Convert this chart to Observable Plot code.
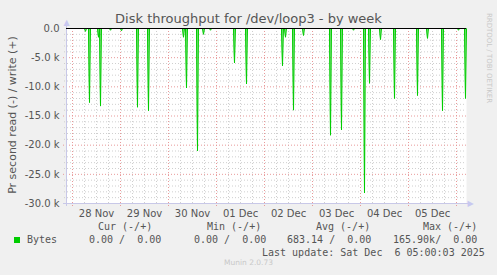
<!DOCTYPE html>
<html><head><meta charset="utf-8">
<script src="https://cdn.jsdelivr.net/npm/d3@7"></script>
<script src="https://cdn.jsdelivr.net/npm/@observablehq/plot@0.6"></script>
<style>
html,body{margin:0;padding:0;background:#f0f0f0;}
#wrap{position:relative;width:497px;height:275px;overflow:hidden;background:#f0f0f0;}
#wrap svg{position:absolute;left:0;top:0;}
.t{position:absolute;white-space:pre;line-height:1;}
.mono{font-family:"DejaVu Sans Mono",monospace;font-size:10px;color:#555;}
</style></head>
<body><div id="wrap"></div>
<script>
// ---- data ----
const titleText = "Disk throughput for /dev/loop3 - by week";
const yLabel = "Pr second read (-) / write (+)";
const timeStart = "2025-11-27T21:00:00Z";
const timeEnd = "2025-12-06T05:00:00Z";
const spikeTimes = [
  "2025-11-28T06:30:00Z","2025-11-28T08:30:00Z","2025-11-28T13:00:00Z","2025-11-28T14:00:00Z",
  "2025-11-28T19:00:00Z","2025-11-29T00:30:00Z","2025-11-29T08:30:00Z","2025-11-29T14:00:00Z",
  "2025-11-30T07:30:00Z","2025-11-30T09:00:00Z","2025-11-30T14:30:00Z","2025-11-30T17:30:00Z",
  "2025-11-30T21:00:00Z","2025-12-01T09:00:00Z","2025-12-01T15:00:00Z","2025-12-02T09:00:00Z",
  "2025-12-02T10:30:00Z","2025-12-02T14:30:00Z","2025-12-02T19:30:00Z","2025-12-03T09:00:00Z",
  "2025-12-03T14:30:00Z","2025-12-03T20:30:00Z","2025-12-04T02:00:00Z","2025-12-04T04:30:00Z",
  "2025-12-04T10:00:00Z","2025-12-04T17:00:00Z","2025-12-05T04:30:00Z","2025-12-05T09:30:00Z",
  "2025-12-05T17:00:00Z","2025-12-06T01:00:00Z","2025-12-06T04:30:00Z"
];
const spikeValues = [
  -500,-12700,-1500,-13300,
  -300,-400,-13500,-14100,
  -1500,-10200,-21000,-1000,
  -300,-5900,-9500,-6400,
  -1500,-14000,-1200,-18300,
  -17400,-300,-28200,-9400,
  -1900,-12000,-11500,-1700,
  -14100,-300,-12000
];
const yTicks = [0,-5000,-10000,-15000,-20000,-25000,-30000];
const dayTicks = ["2025-11-28T12:00:00Z","2025-11-29T12:00:00Z","2025-11-30T12:00:00Z","2025-12-01T12:00:00Z","2025-12-02T12:00:00Z","2025-12-03T12:00:00Z","2025-12-04T12:00:00Z","2025-12-05T12:00:00Z"];
const legendHeaders = ["Cur (-/+)","Min (-/+)","Avg (-/+)","Max (-/+)"];
const legendValues = ["0.00 /  0.00","0.00 /  0.00","683.14 /  0.00","165.90k/  0.00"];
const seriesName = "Bytes";
const lastUpdate = "Last update: Sat Dec  6 05:00:03 2025";
const footer = "Munin 2.0.73";
const sideText = "RRDTOOL / TOBI OETIKER";

// ---- build ----
const t0 = new Date(timeStart), t1 = new Date(timeEnd);
const half = 30*60*1000;
const series = [{t: t0, v: 0}];
spikeTimes.forEach((s,i)=>{
  const t = new Date(s);
  series.push({t: new Date(+t-half), v: 0});
  series.push({t, v: spikeValues[i]});
  series.push({t: new Date(+t+half), v: 0});
});
series.push({t: t1, v: 0});

const minorX = d3.utcHour.every(6).range(t0, t1).filter(d => d.getUTCHours() !== 0);
const majorX = d3.utcDay.range(t0, t1);
const minorY = d3.range(-29000, 0, 1000).filter(v => v % 5000 !== 0);
const majorY = yTicks.filter(v => v !== 0);

const chart = Plot.plot({
  width: 497, height: 275,
  marginLeft: 66, marginRight: 31, marginTop: 28, marginBottom: 72,
  style: {background: "transparent", fontFamily: "DejaVu Sans", fontSize: "10px", color: "#555", overflow: "visible"},
  x: {type: "utc", domain: [t0, t1], axis: null},
  y: {domain: [-30000, 0], axis: null},
  marks: [
    Plot.frame({fill: "white", stroke: "none"}),
    Plot.ruleX(minorX, {stroke: "#cfcfcf", strokeDasharray: "1,2", insetBottom: -2}),
    Plot.ruleY(minorY, {stroke: "#cfcfcf", strokeDasharray: "1,2", insetLeft: -2}),
    Plot.ruleX(majorX, {stroke: "#e89a9a", strokeDasharray: "1,2", insetBottom: -3}),
    Plot.ruleY(majorY, {stroke: "#e89a9a", strokeDasharray: "1,2", insetLeft: -3}),
    Plot.areaY(series, {x: "t", y: "v", fill: "#00cc00", fillOpacity: 0.6, curve: "linear"}),
    Plot.lineY(series, {x: "t", y: "v", stroke: "#00cc00", strokeWidth: 1}),
    Plot.ruleY([-30000], {stroke: "#c8c8e8", insetLeft: -3, insetRight: -4}),
    Plot.ruleX([t0], {stroke: "#c8c8e8", insetTop: -4, insetBottom: -3}),
    Plot.ruleY([0], {stroke: "#000", strokeWidth: 1}),
    Plot.text([t0], {x: d => d, y: 0, text: () => "▲", dy: -6, fill: "#c8c8f0", fontSize: 8}),
    Plot.text([t1], {x: d => d, y: -30000, text: () => "▶", dx: 4, fill: "#c8c8f0", fontSize: 8}),
    Plot.text(yTicks, {x: t0, y: d => d, text: d => d === 0 ? "0.0" : (d/1000).toFixed(1) + " k", textAnchor: "end", dx: -7, fill: "#555", fontSize: 10}),
    Plot.text(dayTicks, {x: d => new Date(d), y: -30000, text: d => d3.utcFormat("%d %b")(new Date(d)), dy: 10, fill: "#555", fontSize: 10})
  ]
});
const wrap = document.getElementById("wrap");
wrap.appendChild(chart);

function addText(txt, css, cls) {
  const d = document.createElement("div");
  d.className = "t " + (cls || "");
  d.textContent = txt;
  Object.assign(d.style, css);
  wrap.appendChild(d);
  return d;
}
addText(titleText, {left: "0", width: "497px", textAlign: "center", top: "12px", fontFamily: "DejaVu Sans", fontSize: "13px", color: "#555"});
addText(yLabel, {left: "12px", top: "115px", fontFamily: "DejaVu Sans", fontSize: "11px", color: "#555", transform: "translate(-50%,-50%) rotate(-90deg)"});
addText(sideText, {left: "488px", top: "58px", fontFamily: "DejaVu Sans", fontSize: "7px", color: "#c8c8c8", transform: "translate(-50%,-50%) rotate(90deg)"});
const hx = [98, 207, 316, 423];
const vx = [89, 194, 287, 393];
legendHeaders.forEach((h,i)=> addText(h, {left: hx[i]+"px", top: "222px"}, "mono"));
legendValues.forEach((v,i)=> addText(v, {left: vx[i]+"px", top: "235px"}, "mono"));
const sq = document.createElement("div");
Object.assign(sq.style, {position: "absolute", left: "14px", top: "237px", width: "6px", height: "6px", background: "#00cc00"});
wrap.appendChild(sq);
addText(seriesName, {left: "27px", top: "235px"}, "mono");
addText(lastUpdate, {left: "262px", top: "248px"}, "mono");
addText(footer, {left: "0", width: "497px", textAlign: "center", top: "259px", fontFamily: "DejaVu Sans", fontSize: "7.5px", color: "#c8c8c8"});
</script></body></html>
